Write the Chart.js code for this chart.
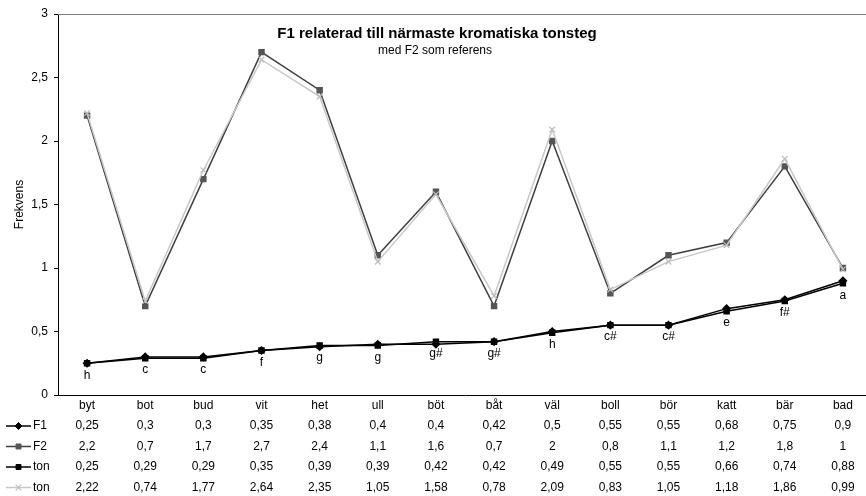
<!DOCTYPE html>
<html>
<head>
<meta charset="utf-8">
<script src="https://cdn.jsdelivr.net/npm/chart.js@4/dist/chart.umd.min.js"></script>
<style>
html,body{margin:0;padding:0;background:#fff;overflow:hidden;}
#wrap{width:880px;height:496px;}
</style>
</head>
<body>
<div id="wrap"><canvas id="c" width="880" height="496"></canvas></div>
<script>
const categories = ['byt','bot','bud','vit','het','ull','böt','båt','väl','boll','bör','katt','bär','bad'];
const f1Values  = [0.25,0.3,0.3,0.35,0.38,0.4,0.4,0.42,0.5,0.55,0.55,0.68,0.75,0.9];
const f2Values  = [2.2,0.7,1.7,2.7,2.4,1.1,1.6,0.7,2,0.8,1.1,1.2,1.8,1];
const tonValues = [0.25,0.29,0.29,0.35,0.39,0.39,0.42,0.42,0.49,0.55,0.55,0.66,0.74,0.88];
const ton2Values = [2.22,0.74,1.77,2.64,2.35,1.05,1.58,0.78,2.09,0.83,1.05,1.18,1.86,0.99];
const toneNames = ['h','c','c','f','g','g','g#','g#','h','c#','c#','e','f#','a'];
const yTicks = [0,0.5,1,1.5,2,2.5,3];

const FONT = '"Liberation Sans", Arial, sans-serif';
const fmt = v => String(v).replace('.', ',');

const datasets = [
  {label:'F1', data:f1Values, borderColor:'#000', backgroundColor:'#000', borderWidth:1.5,
   pointStyle:'rectRot', pointRadius:3.5, pointBorderColor:'#000', pointBackgroundColor:'#000', order:4},
  {label:'F2', data:f2Values, borderColor:'#404040', backgroundColor:'#555', borderWidth:1.5,
   pointStyle:'rect', pointRadius:3.5, pointBorderColor:'#555', pointBackgroundColor:'#555', order:3},
  {label:'ton', data:tonValues, borderColor:'#000', backgroundColor:'#000', borderWidth:1.5,
   pointStyle:'rect', pointRadius:3.5, pointBorderColor:'#000', pointBackgroundColor:'#000', order:2},
  {label:'ton', data:ton2Values, borderColor:'#c8c8c8', backgroundColor:'#bdbdbd', borderWidth:1.5,
   pointStyle:'crossRot', pointRadius:4, pointBorderColor:'#bdbdbd', pointBackgroundColor:'#bdbdbd', pointBorderWidth:1.2, order:1}
];

const overlay = {
  id:'overlay',
  afterDatasetsDraw(chart){
    const ctx = chart.ctx;
    const meta = chart.getDatasetMeta(2);
    ctx.save();
    ctx.fillStyle = '#000';
    ctx.font = '12px ' + FONT;
    ctx.textAlign = 'center';
    ctx.textBaseline = 'middle';
    meta.data.forEach((pt, i) => {
      ctx.fillText(toneNames[i], pt.x, pt.y + 12);
    });
    ctx.font = 'bold 15px ' + FONT;
    ctx.fillText('F1 relaterad till närmaste kromatiska tonsteg', 437, 34);
    ctx.font = '12px ' + FONT;
    ctx.fillText('med F2 som referens', 435, 51);
    ctx.restore();
  },
  afterDraw(chart){
    const ctx = chart.ctx;
    const ca = chart.chartArea;
    const xs = chart.scales.x;
    ctx.save();
    ctx.strokeStyle = '#808080';
    ctx.lineWidth = 1;
    ctx.beginPath();
    ctx.moveTo(ca.left, Math.round(ca.top) + 0.5);
    ctx.lineTo(ca.right, Math.round(ca.top) + 0.5);
    ctx.stroke();
    const rows = [f1Values, f2Values, tonValues, ton2Values];
    const rowY = [426, 446.5, 467, 487.5];
    ctx.font = '12px ' + FONT;
    ctx.textBaseline = 'middle';
    rows.forEach((vals, r) => {
      const ds = chart.data.datasets[r];
      const y = rowY[r];
      ctx.strokeStyle = ds.borderColor;
      ctx.lineWidth = ds.borderWidth;
      ctx.beginPath();
      ctx.moveTo(6, y); ctx.lineTo(31, y);
      ctx.stroke();
      ctx.fillStyle = ds.pointBackgroundColor;
      ctx.strokeStyle = ds.pointBorderColor;
      ctx.lineWidth = ds.pointBorderWidth || 1;
      Chart.helpers.drawPoint(ctx, {
        pointStyle: ds.pointStyle, radius: ds.pointRadius, rotation: 0,
        borderWidth: ds.pointBorderWidth || 1
      }, 18.5, y);
      ctx.fillStyle = '#000';
      ctx.textAlign = 'left';
      ctx.fillText(ds.label, 33, y);
      ctx.textAlign = 'center';
      vals.forEach((v, i) => {
        ctx.fillText(fmt(v), xs.getPixelForValue(i), y);
      });
    });
    ctx.restore();
  }
};

new Chart(document.getElementById('c'), {
  type:'line',
  data:{labels:categories, datasets:datasets},
  options:{
    responsive:false,
    animation:false,
    events:[],
    layout:{padding:{top:14, right:8, left:0, bottom:0}},
    plugins:{legend:{display:false}, tooltip:{enabled:false}},
    elements:{line:{tension:0}},
    scales:{
      x:{
        offset:true,
        grid:{display:false, drawTicks:false},
        border:{color:'#000', width:1},
        ticks:{color:'#000', font:{family:FONT, size:12}, padding:3, maxRotation:0, autoSkip:false},
        afterFit(scale){ scale.height = 101; }
      },
      y:{
        min:0, max:3,
        afterBuildTicks(scale){ scale.ticks = yTicks.map(v => ({value:v})); },
        grid:{drawOnChartArea:false, drawTicks:true, tickLength:4, color:'#000'},
        border:{color:'#000', width:1},
        ticks:{color:'#000', font:{family:FONT, size:12}, padding:6, callback:v => fmt(v)},
        title:{display:true, text:'Frekvens', color:'#000', font:{family:FONT, size:12}, padding:{top:12, bottom:0}},
        afterFit(scale){ scale.width = 58; }
      }
    }
  },
  plugins:[overlay]
});
</script>
</body>
</html>
